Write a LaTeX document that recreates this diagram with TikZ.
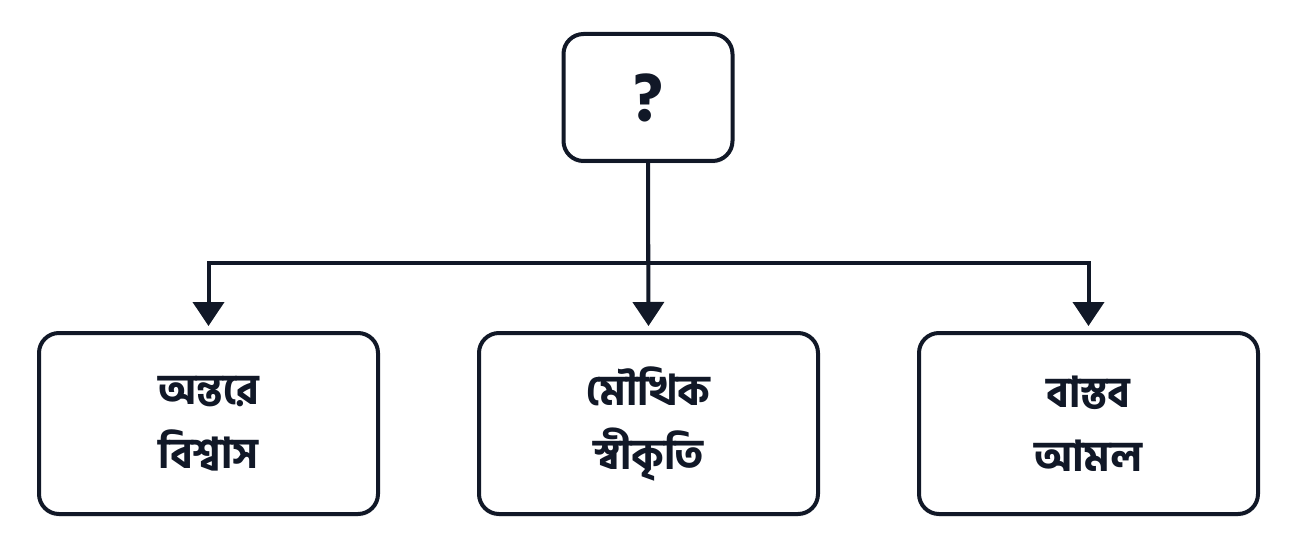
\documentclass[tikz,border=0pt]{standalone}
\usepackage{fontspec}
\newfontfamily\bnfont[Script=Bengali, UprightFont=* Bold]{Hind Siliguri}
\newfontfamily\qfont[UprightFont=* Bold]{Hind Siliguri}
\usetikzlibrary{arrows.meta,shadows}
\definecolor{ink}{HTML}{111827}
\tikzset{
  box/.style={draw=ink, line width=4pt, fill=white, rounded corners=20pt,
    rectangle, align=center, text=ink,
    drop shadow={shadow xshift=0pt, shadow yshift=-3pt, opacity=0.08}},
  topbox/.style={box, minimum width=169pt, minimum height=127pt,
    font=\qfont\fontsize{70}{70}\selectfont},
  leafbox/.style={box, minimum width=339pt, minimum height=181pt,
    font=\bnfont\fontsize{42}{64}\selectfont},
  link/.style={draw=ink, line width=4pt, -{Triangle[width=31pt,length=24pt]}, shorten >=5pt}
}
\begin{document}
\begin{tikzpicture}[x=1pt,y=-1pt]
\useasboundingbox (0,0) rectangle (1296,556);
\node[topbox] (q) at (648,97.5) {?};
\node[leafbox] (a) at (208.5,423.5) {অন্তরে\\বিশ্বাস};
\node[leafbox] (b) at (648.5,423.5) {মৌখিক\\স্বীকৃতি};
\node[leafbox] (c) at (1088.5,423.5) {বাস্তব\\আমল};
\coordinate (j) at (648,263);
\draw[link] (q.south) -- (j) -| (a.north);
\draw[link] (q.south) -- (b.north);
\draw[link] (q.south) -- (j) -| (c.north);
\end{tikzpicture}
\end{document}
